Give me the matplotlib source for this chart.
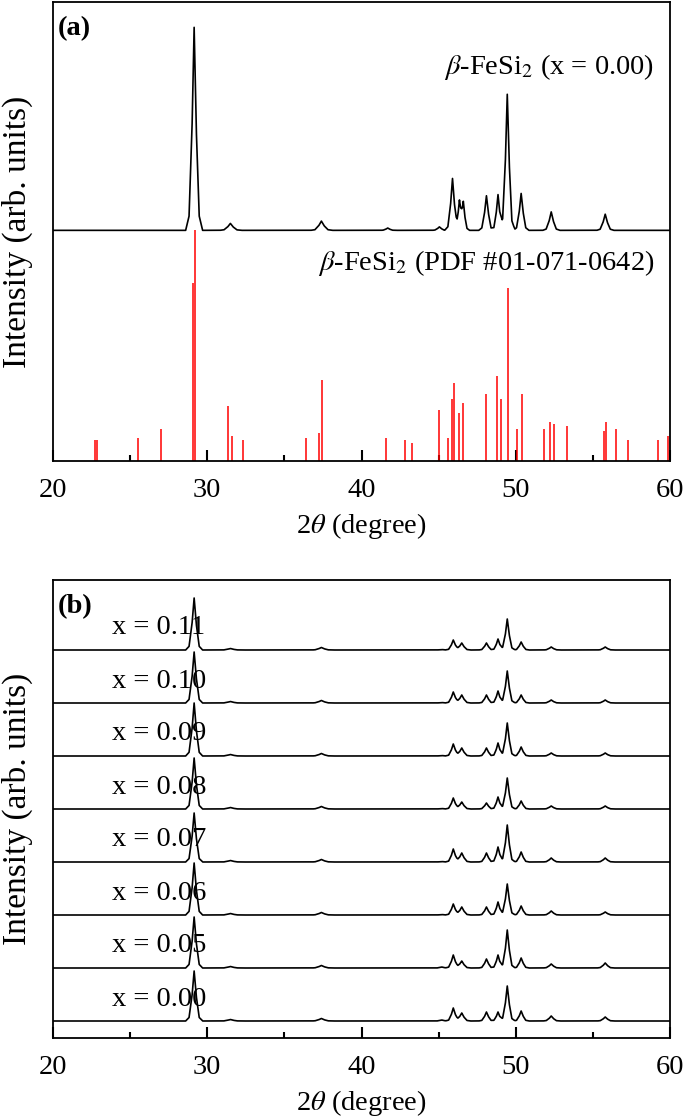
import numpy as np
import matplotlib
matplotlib.use("Agg")
import matplotlib.pyplot as plt

plt.rcParams['font.family'] = ['Liberation Serif', 'DejaVu Serif']
plt.rcParams['mathtext.fontset'] = 'stix'

# ---- panel (a): measured pattern, x = 0.00 ----
a_pos = [29.15, 31.5, 37.4, 41.7, 45.05, 45.9, 46.35, 46.6, 48.1, 48.85, 49.45, 50.35, 52.3, 55.8]
a_int = [88, 3, 4, 1, 1.5, 22.5, 12, 12, 15, 15.5, 59, 16, 8, 7]
a_wid = [0.55, 0.7, 0.7, 0.5, 0.5, 0.5, 0.35, 0.4, 0.5, 0.45, 0.5, 0.5, 0.55, 0.55]
a_offset = 100

# reference lines, PDF #01-071-0642
pdf_pos = [22.7, 22.85, 25.5, 27.0, 29.1, 29.2, 31.35, 31.6, 32.35, 36.4, 37.25, 37.45,
           41.6, 42.8, 43.3, 45.0, 45.6, 45.85, 46.0, 46.3, 46.6, 48.1, 48.8, 49.05,
           49.5, 50.1, 50.4, 51.8, 52.25, 52.45, 53.3, 55.7, 55.85, 56.5, 57.3, 59.2, 59.9]
pdf_int = [9, 9, 10, 14, 77, 100, 24, 11, 9, 10, 12, 35,
           10, 9, 8, 22, 10, 27, 34, 21, 25, 29, 37, 27,
           75, 14, 29, 14, 17, 16, 15, 13, 17, 14, 9, 9, 11]

# ---- panel (b): series of samples ----
b_labels = ['x = 0.00', 'x = 0.05', 'x = 0.06', 'x = 0.07',
            'x = 0.08', 'x = 0.09', 'x = 0.10', 'x = 0.11']
b_pos = [29.15, 31.5, 37.4, 45.2, 45.95, 46.5, 48.1, 48.85, 49.45, 50.35, 52.3, 55.8]
b_wid = [0.55, 0.7, 0.7, 0.5, 0.5, 0.55, 0.5, 0.45, 0.5, 0.5, 0.55, 0.55]
b_int = [
    [50, 1.5, 2.5, 1.0, 13, 8, 9, 9, 35, 10, 5, 4],
    [51, 1.5, 2.5, 1.0, 13, 7, 9, 13, 38, 10, 4, 5],
    [52, 1.5, 2.5, 0.5, 11, 8, 8, 13, 31, 9, 4, 3],
    [49, 1.5, 2.5, 0.5, 13, 9, 9, 15, 37, 10, 4, 4],
    [51, 1.5, 2.5, 0.5, 11, 7, 6, 12, 31, 8, 3, 3],
    [53, 1.5, 2.5, 0.5, 12, 8, 8, 13, 33, 9, 3, 3],
    [51, 1.5, 2.5, 0.5, 11, 8, 8, 12, 32, 8, 3, 3],
    [52, 1.5, 2.5, 0.5, 10, 7, 7, 11, 31, 8, 3, 3],
]
b_step = 53

tt = np.linspace(20, 60, 4001)
shape_dx = np.array([-1, -0.6, -0.25, 0, 0.25, 0.6, 1])
shape_fr = np.array([0, 0.07, 0.5, 1, 0.5, 0.07, 0])


def trace(pos, inten, wid):
    y = np.zeros_like(tt)
    for p, h, w in zip(pos, inten, wid):
        y += np.interp(tt, p + shape_dx * w, shape_fr * h, left=0, right=0)
    return y


def style(ax):
    ax.set_xlim(20, 60)
    ax.set_xticks([20, 30, 40, 50, 60])
    ax.set_xticks([25, 35, 45, 55], minor=True)
    ax.set_yticks([])
    ax.tick_params(axis='x', which='major', direction='in', length=8, width=1.5,
                   labelsize=20.5, pad=12)
    ax.tick_params(axis='x', which='minor', direction='in', length=4, width=1.5)
    for s in ax.spines.values():
        s.set_linewidth(1.3)
    ax.set_xlabel(r'2$\theta$ (degree)', fontsize=20.5, labelpad=6)
    ax.set_ylabel('Intensity (arb. units)', fontsize=24)
    ax.yaxis.set_label_coords(-0.033, 0.5)


fig = plt.figure(figsize=(6.85, 11.18), dpi=100)
ax1 = fig.add_axes([53 / 685, 657 / 1118, 617 / 685, 459 / 1118])
ax2 = fig.add_axes([53 / 685, 80 / 1118, 617 / 685, 458 / 1118])

ax1.plot(tt, a_offset + trace(a_pos, a_int, a_wid), color='black', lw=1.2)
ax1.vlines(pdf_pos, 0, pdf_int, color='red', lw=1.1)
ax1.set_ylim(0, 199)
style(ax1)
ax1.text(20.3, 193, '(a)', fontsize=20.5, fontweight='bold', va='top', ha='left')
ax1.text(59.0, 171, r'$\beta$-FeSi$_2$ (x = 0.00)', fontsize=20.5, ha='right', va='center')
ax1.text(59.0, 86, r'$\beta$-FeSi$_2$ (PDF #01-071-0642)', fontsize=20.5, ha='right', va='center')

for i, lab in enumerate(b_labels):
    off = i * b_step
    ax2.plot(tt, off + trace(b_pos, b_int[i], b_wid), color='black', lw=1.2)
    ax2.text(23.8, off + 22, lab, fontsize=20.5, ha='left', va='center')
ax2.set_ylim(-17, 441)
style(ax2)
ax2.text(20.3, 427, '(b)', fontsize=20.5, fontweight='bold', va='top', ha='left')

fig.savefig('out.png', dpi=100)
